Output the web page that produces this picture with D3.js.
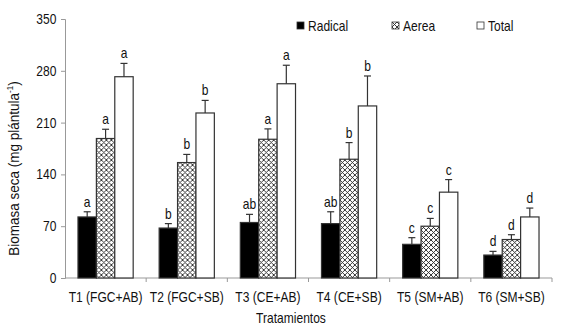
<!DOCTYPE html>
<html>
<head>
<meta charset="utf-8">
<script src="https://cdn.jsdelivr.net/npm/d3@7"></script>
<style>
  body { margin: 0; background: #fff; }
  text { font-family: "Liberation Sans", Arial, sans-serif; fill: #111; }
</style>
</head>
<body>
<div id="chart"></div>
<script>
// data
const treatments = ["T1 (FGC+AB)", "T2 (FGC+SB)", "T3 (CE+AB)", "T4 (CE+SB)", "T5 (SM+AB)", "T6 (SM+SB)"];
const series = ["Radical", "Aerea", "Total"];
const radical = [82.5, 67.5, 75, 73.5, 45.5, 31];
const aerea = [188.5, 156, 187.5, 160.5, 70, 52];
const total = [272, 223, 262.5, 232.5, 116, 82.5];
const radicalErr = [7, 6, 11, 16, 9, 5];
const aereaErr = [12.5, 11, 14, 22.5, 10.5, 6.5];
const totalErr = [18, 17, 25, 40.5, 17, 12];
const radicalLetters = ["a", "b", "ab", "ab", "c", "d"];
const aereaLetters = ["a", "b", "a", "b", "c", "d"];
const totalLetters = ["a", "b", "a", "b", "c", "d"];
const yTicks = [0, 70, 140, 210, 280, 350];

const width = 567, height = 332,
      margin = ({top: 19, right: 15, bottom: 54, left: 65});
const squeeze = 0.86; // the original font is a narrow Arial

// move x/y into a transform so the glyphs can be squeezed sideways
function narrow(sel) {
  sel.each(function() {
    const t = d3.select(this);
    const tx = +t.attr("x") || 0, ty = +t.attr("y") || 0;
    t.attr("x", 0).attr("y", 0)
     .attr("transform", `translate(${tx},${ty}) scale(${squeeze},1)`);
  });
}

// one row per bar
const rows = [];
treatments.forEach((t, i) => {
  rows.push({t, s: "Radical", v: radical[i], e: radicalErr[i], l: radicalLetters[i]});
  rows.push({t, s: "Aerea", v: aerea[i], e: aereaErr[i], l: aereaLetters[i]});
  rows.push({t, s: "Total", v: total[i], e: totalErr[i], l: totalLetters[i]});
});

const svg = d3.select("#chart").append("svg")
    .attr("width", width).attr("height", height)
    .attr("viewBox", [0, 0, width, height]);

// crosshatch for Aerea
const pat = svg.append("defs").append("pattern")
    .attr("id", "hatch").attr("patternUnits", "userSpaceOnUse")
    .attr("width", 5).attr("height", 5);
pat.append("rect").attr("width", 5).attr("height", 5).attr("fill", "#fff");
pat.append("path").attr("d", "M0,0L5,5M5,0L0,5M-1,4L1,6M4,-1L6,1M4,6L6,4M-1,1L1,-1")
    .attr("stroke", "#222").attr("stroke-width", 0.9);

const fills = {Radical: "#000", Aerea: "url(#hatch)", Total: "#fff"};

const x = d3.scaleBand()
    .domain(treatments)
    .range([margin.left, width - margin.right]);

const x1 = d3.scaleBand()
    .domain(series)
    .range([x.bandwidth() * 0.16, x.bandwidth() * 0.84]);

const y = d3.scaleLinear()
    .domain([0, 350])
    .range([height - margin.bottom, margin.top]);

// y axis
const yAxis = g => g
    .attr("transform", `translate(${margin.left}, 0)`)
    .call(d3.axisLeft(y).tickValues(yTicks).tickSize(4).tickPadding(8))
    .call(g => g.selectAll("path, line").attr("stroke", "#999"))
    .call(g => g.selectAll("text").attr("font-size", 14).attr("font-family", null).attr("fill", "#111"))
    .call(g => g.selectAll("text").attr("transform", `scale(${squeeze},1)`).attr("x", -10));
svg.append("g").call(yAxis);

// x axis: line with ticks between categories
const xg = svg.append("g").attr("transform", `translate(0, ${y(0)})`);
xg.append("line").attr("x1", margin.left).attr("x2", width - margin.right)
    .attr("stroke", "#999");
xg.selectAll(".sep").data(treatments).join("line")
    .attr("class", "sep")
    .attr("x1", d => x(d) + x.bandwidth()).attr("x2", d => x(d) + x.bandwidth())
    .attr("y1", 0).attr("y2", 4).attr("stroke", "#999");
xg.selectAll(".lab").data(treatments).join("text")
    .attr("class", "lab")
    .attr("x", d => x(d) + x.bandwidth() / 2)
    .attr("y", 24)
    .attr("text-anchor", "middle")
    .attr("font-size", 14)
    .text(d => d)
    .call(narrow);

// bars
const bar = svg.selectAll(".bar")
    .data(rows)
    .join("g")
    .attr("class", "bar")
    .attr("transform", d => `translate(${x(d.t) + x1(d.s)}, 0)`);

bar.append("rect")
    .attr("x", 0)
    .attr("width", x1.bandwidth())
    .attr("y", d => y(d.v))
    .attr("height", d => y(0) - y(d.v))
    .attr("fill", d => fills[d.s])
    .attr("stroke", "#333")
    .attr("stroke-width", 1.2);

// error bars (upper only)
bar.append("line")
    .attr("x1", x1.bandwidth() / 2).attr("x2", x1.bandwidth() / 2)
    .attr("y1", d => y(d.v)).attr("y2", d => y(d.v + d.e))
    .attr("stroke", "#333").attr("stroke-width", 1.2);
bar.append("line")
    .attr("x1", x1.bandwidth() / 2 - 3.5).attr("x2", x1.bandwidth() / 2 + 3.5)
    .attr("y1", d => y(d.v + d.e)).attr("y2", d => y(d.v + d.e))
    .attr("stroke", "#333").attr("stroke-width", 1.2);

bar.append("text")
    .attr("x", x1.bandwidth() / 2)
    .attr("y", d => y(d.v + d.e) - 5)
    .attr("text-anchor", "middle")
    .attr("font-size", 14)
    .text(d => d.l)
    .call(narrow);

// legend
const legX = [297, 392, 477];
const leg = svg.selectAll(".leg").data(series).join("g")
    .attr("class", "leg")
    .attr("transform", (d, i) => `translate(${legX[i]}, 22)`);
leg.append("rect").attr("width", 7).attr("height", 7)
    .attr("fill", d => fills[d]).attr("stroke", "#333").attr("stroke-width", 0.8);
leg.append("text").attr("x", 11).attr("y", 8.5)
    .attr("font-size", 14).text(d => d)
    .call(narrow);

// axis titles
svg.append("text")
    .attr("x", 291).attr("y", 323)
    .attr("text-anchor", "middle").attr("font-size", 14)
    .text("Tratamientos")
    .call(narrow);

const yt = svg.append("text")
    .attr("transform", `translate(19, ${(y(0) + y(350)) / 2 + 20}) rotate(-90) scale(0.9,1)`)
    .attr("text-anchor", "middle").attr("font-size", 15);
yt.append("tspan").text("Biomasa seca (mg plántula");
yt.append("tspan").attr("font-size", 9).attr("dy", -6).text("-1");
yt.append("tspan").attr("dy", 6).text(")");
</script>
</body>
</html>
